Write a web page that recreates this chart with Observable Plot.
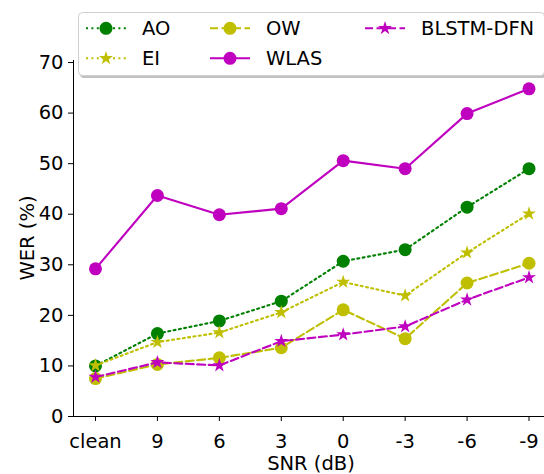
<!DOCTYPE html>
<html><head><meta charset="utf-8">
<script src="https://cdn.jsdelivr.net/npm/d3@7"></script>
<script src="https://cdn.jsdelivr.net/npm/@observablehq/plot@0.6"></script>
<style>
body{margin:0;background:#fff}
svg{font-family:"DejaVu Sans",sans-serif}
</style>
</head><body><div id="chart"></div>
<script>
// ---- data ----
const snrLabels = ["clean", "9", "6", "3", "0", "-3", "-6", "-9"];
const seriesNames = ["AO", "EI", "OW", "WLAS", "BLSTM-DFN"];
const aoValues    = [10.0, 16.4, 18.9, 22.8, 30.7, 33.0, 41.4, 49.0];
const eiValues    = [10.1, 14.7, 16.6, 20.6, 26.6, 23.9, 32.4, 40.1];
const owValues    = [7.5, 10.3, 11.6, 13.6, 21.1, 15.4, 26.4, 30.3];
const wlasValues  = [29.2, 43.7, 39.9, 41.1, 50.6, 49.0, 59.9, 64.8];
const blstmValues = [7.8, 10.7, 10.1, 14.9, 16.2, 17.8, 23.1, 27.5];
const yTicks = [0, 10, 20, 30, 40, 50, 60, 70];
const xLabel = "SNR (dB)";
const yLabel = "WER (%)";

// ---- styles ----
const FS = 19.5;
const G = "#008000", Y = "#bfbf00", M = "#bf00bf";
const styles = {
  "AO":        {color: G, dash: "2,3.4", symbol: "circle", r: 6.5},
  "EI":        {color: Y, dash: "2,3.4", symbol: "star", r: 4.4},
  "OW":        {color: Y, dash: "8,3.5", symbol: "circle", r: 6.5},
  "WLAS":      {color: M, dash: null, symbol: "circle", r: 6.5},
  "BLSTM-DFN": {color: M, dash: "8,3.5", symbol: "star", r: 4.4}
};
const valuesBy = {"AO": aoValues, "EI": eiValues, "OW": owValues, "WLAS": wlasValues, "BLSTM-DFN": blstmValues};

const marks = [];
for (const name of seriesNames) {
  const s = styles[name];
  const rows = valuesBy[name].map((v, i) => ({i, v}));
  marks.push(Plot.line(rows, {x: "i", y: "v", stroke: s.color, strokeWidth: 2.1, strokeDasharray: s.dash}));
  marks.push(Plot.dot(rows, {x: "i", y: "v", symbol: () => s.symbol, fill: s.color, stroke: "none", r: s.r}));
}

const chart = Plot.plot({
  width: 544, height: 474,
  marginLeft: 73, marginRight: 0, marginTop: 60, marginBottom: 58,
  style: {fontSize: FS + "px", fontFamily: "DejaVu Sans", color: "#000", background: "#fff"},
  symbol: {type: "identity"},
  x: {type: "linear", domain: [-0.355, 7.25], ticks: snrLabels.map((_, i) => i),
      tickFormat: i => snrLabels[i], tickSize: 5, tickPadding: 12.5, line: true, label: null},
  y: {domain: [0, 70.4], ticks: yTicks, tickSize: 5, tickPadding: 5, line: true, label: null},
  marks
});
document.getElementById("chart").append(chart);

// ---- axis titles & legend ----
const svg = d3.select(chart);
svg.append("text").attr("x", 311).attr("y", 470).attr("text-anchor", "middle")
  .attr("font-size", FS).attr("fill", "#000").text(xLabel);
svg.append("text").attr("transform", "translate(34,238) rotate(-90)").attr("text-anchor", "middle")
  .attr("font-size", FS).attr("fill", "#000").text(yLabel);

const lg = svg.append("g");
lg.append("rect").attr("x", 80).attr("y", 15).attr("width", 466).attr("height", 63).attr("rx", 4)
  .attr("fill", "#999").attr("opacity", 0.6);
lg.append("rect").attr("x", 78.5).attr("y", 12.5).attr("width", 466).attr("height", 63).attr("rx", 4)
  .attr("fill", "#fff").attr("stroke", "#d0d0d0").attr("stroke-width", 1);
const cols = [86, 210, 365];
const rowsY = [28.3, 58.3];
seriesNames.forEach((name, k) => {
  const s = styles[name];
  const c = Math.floor(k / 2), r = k % 2;
  const x0 = cols[c], y0 = rowsY[r];
  lg.append("line").attr("x1", x0).attr("x2", x0 + 40).attr("y1", y0).attr("y2", y0)
    .attr("stroke", s.color).attr("stroke-width", 2.1).attr("stroke-dasharray", s.dash);
  const sym = s.symbol === "star" ? d3.symbolStar : d3.symbolCircle;
  lg.append("path").attr("d", d3.symbol(sym, Math.PI * s.r * s.r)())
    .attr("transform", `translate(${x0 + 20},${y0})`).attr("fill", s.color);
  lg.append("text").attr("x", x0 + 56).attr("y", y0 + 7).attr("text-anchor", "start")
    .attr("font-size", FS).attr("fill", "#000").text(name);
});
</script>
</body></html>
